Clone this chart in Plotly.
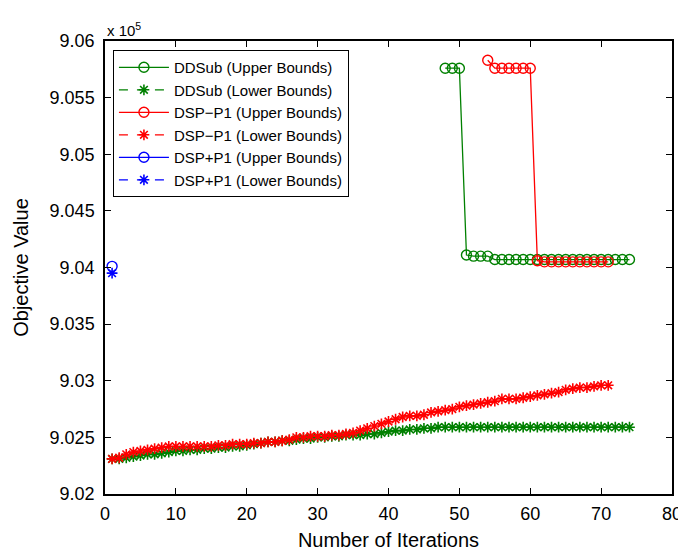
import plotly.graph_objects as go

# values are in units of 1e5
ddsub_ub_iter = list(range(48, 75))
ddsub_ub = [9.0576, 9.0576, 9.0576, 9.0411, 9.0410, 9.0410, 9.0410] + [9.0407] * 20

ddsub_lb_iter = list(range(1, 75))
ddsub_lb = [9.0231, 9.0231, 9.0232, 9.0233, 9.0234, 9.0235, 9.0235, 9.0236, 9.0237, 9.0238,
            9.0238, 9.0239, 9.0239, 9.0240, 9.0240, 9.0241, 9.0241, 9.0242, 9.0242, 9.0243,
            9.0244, 9.0245, 9.0246, 9.0246, 9.0247, 9.0247, 9.0248, 9.0249, 9.0249, 9.0250,
            9.0250, 9.0251, 9.0251, 9.0252, 9.0252, 9.0252, 9.0253, 9.0253, 9.0254, 9.0255,
            9.0256, 9.0256, 9.0257, 9.0257, 9.0258, 9.0258, 9.0259] + [9.0259] * 27

dspm_ub_iter = list(range(54, 72))
dspm_ub = [9.0583, 9.0576, 9.0576, 9.0576, 9.0576, 9.0576, 9.0576, 9.0406] + [9.0405] * 10

dspm_lb_iter = list(range(1, 72))
dspm_lb = [9.0231, 9.0232, 9.0235, 9.0237, 9.0238, 9.0239, 9.0240, 9.0241, 9.0242, 9.0242,
           9.0242, 9.0242, 9.0242, 9.0242, 9.0242, 9.0243, 9.0243, 9.0244, 9.0244, 9.0244,
           9.0245, 9.0245, 9.0246, 9.0246, 9.0247, 9.0248, 9.0250, 9.0250, 9.0251, 9.0251,
           9.0251, 9.0252, 9.0252, 9.0253, 9.0254, 9.0256, 9.0258, 9.0260, 9.0262, 9.0264,
           9.0266, 9.0268, 9.0269, 9.0269, 9.0270, 9.0272, 9.0273, 9.0274, 9.0275, 9.0277,
           9.0278, 9.0279, 9.0280, 9.0281, 9.0282, 9.0284, 9.0284, 9.0284, 9.0285, 9.0286,
           9.0287, 9.0288, 9.0289, 9.0290, 9.0292, 9.0293, 9.0294, 9.0294, 9.0295, 9.0296,
           9.0296]

dspp_ub_iter = [1]
dspp_ub = [9.0401]
dspp_lb_iter = [1]
dspp_lb = [9.0395]

y_ticks = [9.02, 9.025, 9.03, 9.035, 9.04, 9.045, 9.05, 9.055, 9.06]
y_tick_text = ["9.02", "9.025", "9.03", "9.035", "9.04", "9.045", "9.05", "9.055", "9.06"]
x_ticks = [0, 10, 20, 30, 40, 50, 60, 70, 80]

GREEN = "rgb(0,128,0)"
RED = "rgb(255,0,0)"
BLUE = "rgb(0,0,255)"
FONT = "Liberation Sans, Arial, sans-serif"

def ub(x, y, color, name):
    return go.Scatter(x=x, y=y, name=name, mode="lines+markers",
                      line=dict(color=color, width=1.3),
                      marker=dict(symbol="circle-open", size=10, color=color,
                                  line=dict(width=1.4, color=color)))

def lb(x, y, color, name):
    return go.Scatter(x=x, y=y, name=name, mode="lines+markers",
                      line=dict(color=color, width=1.3, dash="dash"),
                      marker=dict(symbol="asterisk-open", size=9, color=color,
                                  line=dict(width=1.6, color=color)))

fig = go.Figure()
fig.add_trace(ub(ddsub_ub_iter, ddsub_ub, GREEN, "DDSub (Upper Bounds)"))
fig.add_trace(lb(ddsub_lb_iter, ddsub_lb, GREEN, "DDSub (Lower Bounds)"))
fig.add_trace(ub(dspm_ub_iter, dspm_ub, RED, "DSP\u2212P1 (Upper Bounds)"))
fig.add_trace(lb(dspm_lb_iter, dspm_lb, RED, "DSP\u2212P1 (Lower Bounds)"))
fig.add_trace(ub(dspp_ub_iter, dspp_ub, BLUE, "DSP+P1 (Upper Bounds)"))
fig.add_trace(lb(dspp_lb_iter, dspp_lb, BLUE, "DSP+P1 (Lower Bounds)"))

axis_common = dict(showline=True, linecolor="black", linewidth=1.5, mirror="allticks",
                   ticks="inside", ticklen=6, tickcolor="black", tickwidth=1,
                   showgrid=False, zeroline=False,
                   tickfont=dict(family=FONT, size=18, color="black"))

fig.update_xaxes(range=[0, 80], tickvals=x_ticks, ticklabelstandoff=3,
                 title=dict(text="Number of Iterations",
                            font=dict(family=FONT, size=20, color="black"), standoff=10),
                 **axis_common)
fig.update_yaxes(range=[9.02, 9.06], tickvals=y_ticks, ticktext=y_tick_text,
                 ticklabelstandoff=5,
                 title=dict(text="Objective Value",
                            font=dict(family=FONT, size=20, color="black"), standoff=16),
                 **axis_common)

fig.update_layout(
    width=686, height=552,
    margin=dict(l=97, r=14, t=33, b=63),
    plot_bgcolor="white", paper_bgcolor="white",
    font=dict(family=FONT, color="black"),
    legend=dict(x=0.014, y=0.98, xanchor="left", yanchor="top",
                bgcolor="white", bordercolor="black", borderwidth=1,
                font=dict(family=FONT, size=15, color="black"),
                itemwidth=50, tracegroupgap=0),
    annotations=[dict(text="x 10<sup>5</sup>", xref="paper", yref="paper",
                      x=0, y=1, xanchor="left", yanchor="bottom", showarrow=False,
                      font=dict(family=FONT, size=15, color="black"))],
    showlegend=True,
)

fig.write_html("out.html")
